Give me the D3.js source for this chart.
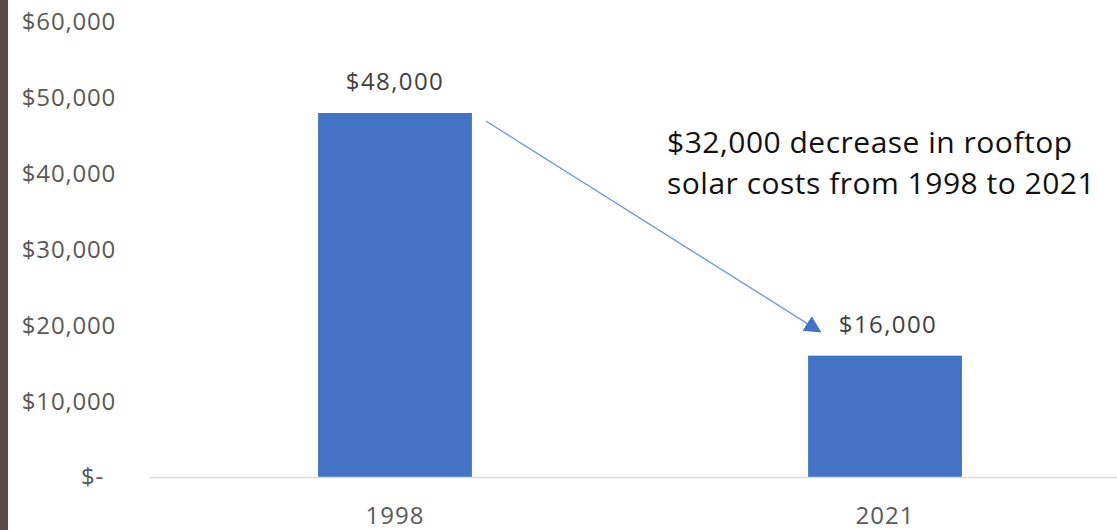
<!DOCTYPE html>
<html>
<head>
<meta charset="utf-8">
<script src="https://cdn.jsdelivr.net/npm/d3@7"></script>
<style>
  body { margin: 0; background: #fff; overflow: hidden; }
  svg { display: block; font-family: "Open Sans", sans-serif; }
</style>
</head>
<body>
<svg width="1117" height="530"></svg>
<script>
// data
var years = ["1998", "2021"];
var costs = [48000, 16000];
var yTicks = [0, 10000, 20000, 30000, 40000, 50000, 60000];
var note = ["$32,000 decrease in rooftop", "solar costs from 1998 to 2021"];

var svg = d3.select("svg"),
    width = 1117,
    height = 530;

// dark strip on the left edge
svg.append("rect")
    .attr("x", 0).attr("y", 0)
    .attr("width", 8).attr("height", height)
    .attr("fill", "#564b45");

var x = d3.scaleBand()
    .domain(years)
    .range([150, 1130])
    .padding(0);

var y = d3.scaleLinear()
    .domain([0, 60000])
    .range([477, 22]);

var money = d3.format("$,");

// y tick labels (no gridlines)
svg.append("g")
    .selectAll("text")
    .data(yTicks).enter()
    .append("text")
    .attr("x", 116)
    .attr("y", function(d) { return y(d); })
    .attr("dy", "0.35em")
    .attr("text-anchor", "end")
    .attr("fill", "#595959")
    .style("font-size", "24px")
    .style("letter-spacing", "0.8px")
    .text(function(d) { return d === 0 ? "$-" : money(d); })
    .filter(function(d) { return d === 0; })
    .attr("x", 104);

// bars
var barW = x.bandwidth() * 0.314;
svg.append("g")
    .selectAll("rect")
    .data(costs).enter()
    .append("rect")
    .attr("x", function(d, i) { return x(years[i]) + x.bandwidth() / 2 - barW / 2; })
    .attr("y", function(d) { return y(d); })
    .attr("width", barW)
    .attr("height", function(d) { return y(0) - y(d); })
    .attr("fill", "#4472c4");

// x axis line
svg.append("line")
    .attr("x1", 150).attr("x2", width)
    .attr("y1", y(0) + 0.5).attr("y2", y(0) + 0.5)
    .attr("stroke", "#d9d9d9")
    .attr("stroke-width", 1.5);

// x labels
svg.append("g")
    .selectAll("text")
    .data(years).enter()
    .append("text")
    .attr("x", function(d) { return x(d) + x.bandwidth() / 2; })
    .attr("y", 524)
    .attr("text-anchor", "middle")
    .attr("fill", "#595959")
    .style("font-size", "24px")
    .style("letter-spacing", "1px")
    .text(function(d) { return d; });

// data labels
svg.append("g")
    .selectAll("text")
    .data(costs).enter()
    .append("text")
    .attr("x", function(d, i) { return x(years[i]) + x.bandwidth() / 2 + (i === 1 ? 3 : 0); })
    .attr("y", function(d) { return y(d) - 23; })
    .attr("text-anchor", "middle")
    .attr("fill", "#404040")
    .style("font-size", "24px")
    .style("letter-spacing", "1.4px")
    .text(function(d) { return money(d); });

// arrow from the 1998 bar top towards the 2021 label
svg.append("defs").append("marker")
    .attr("id", "head")
    .attr("viewBox", "0 0 10 10")
    .attr("refX", 9).attr("refY", 5)
    .attr("markerWidth", 17).attr("markerHeight", 17)
    .attr("markerUnits", "userSpaceOnUse")
    .attr("orient", "auto")
  .append("path")
    .attr("d", "M0,0 L10,5 L0,10 z")
    .attr("fill", "#4472c4");

var x0 = x(years[0]) + x.bandwidth() / 2 + barW / 2 + 14,
    x1 = x(years[1]) + x.bandwidth() / 2 - barW / 2 + 12;
svg.append("line")
    .attr("x1", x0).attr("y1", y(costs[0]) + 8)
    .attr("x2", x1).attr("y2", y(costs[1]) - 24)
    .attr("stroke", "#6a95dc")
    .attr("stroke-width", 1.3)
    .attr("marker-end", "url(#head)");

// annotation
svg.append("text")
    .attr("fill", "#111")
    .style("font-size", "30px")
    .style("letter-spacing", "0.5px")
    .selectAll("tspan")
    .data(note).enter()
    .append("tspan")
    .attr("x", 667)
    .attr("y", function(d, i) { return 153 + i * 41; })
    .text(function(d) { return d; });
</script>
</body>
</html>
